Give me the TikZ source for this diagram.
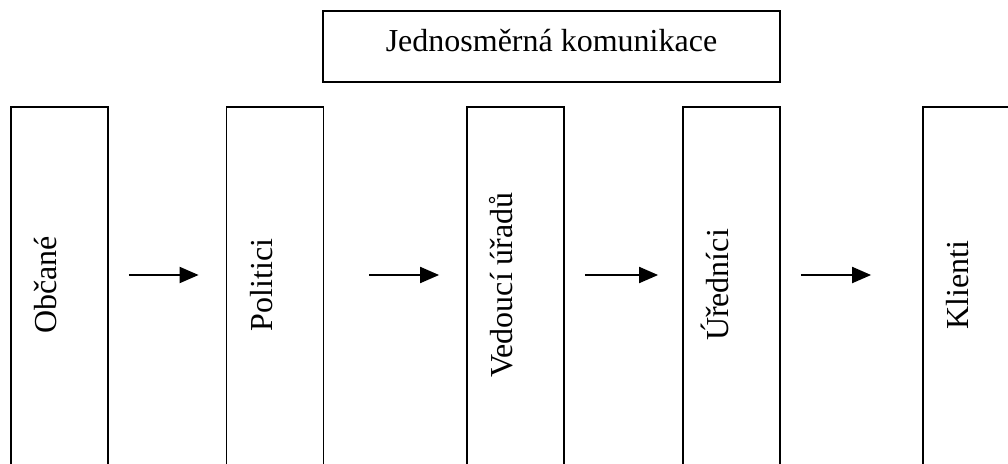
\documentclass[tikz,border=0pt]{standalone}
\usepackage{fontspec}
\setmainfont{Liberation Serif}
\usetikzlibrary{arrows.meta}

\begin{document}
\begin{tikzpicture}[x = 1pt, y = -1pt,
  col/.style = {draw, line width = 1.8pt, minimum width = 97pt, minimum height = 373pt, inner sep = 0pt},
  lab/.style = {anchor = base, inner sep = 0pt, font = \fontsize{32}{38}\selectfont},
  arr/.style = {line width = 2pt, -{Triangle[length = 19pt, width = 16pt]}}]
 \useasboundingbox (0, 0) rectangle (1008, 463);
 \clip (0, 0) rectangle (1008, 463);
 \coordinate (mid) at (0, 275);
  \node[col, minimum width = 457pt, minimum height = 71pt] (title) at (551.5, 46.5) {};
  \node[lab] (title-lab) at (551.5, 51) {Jednosměrná komunikace};
  \foreach \n/\x/\t in {obc/59.5/Občané, pol/275/Politici, ved/515.5/Vedoucí úřadů, ure/731.5/Úředníci, kli/971.5/Klienti}{
  \node[col] (\n) at (\x, 293.5) {};
  \node[lab, rotate = 90] (\n-lab) at (\x-3, 285) {\t};
  }
  \foreach \a/\b/\s/\e in {obc/pol/20/27, pol/ved/45/27, ved/ure/20/24, ure/kli/20/51}{
  \draw[arr, shorten <= \s pt, shorten >= \e pt] (\a.east |- mid) -- (\b.west |- mid);
  }
 \end{tikzpicture}
\end{document}
